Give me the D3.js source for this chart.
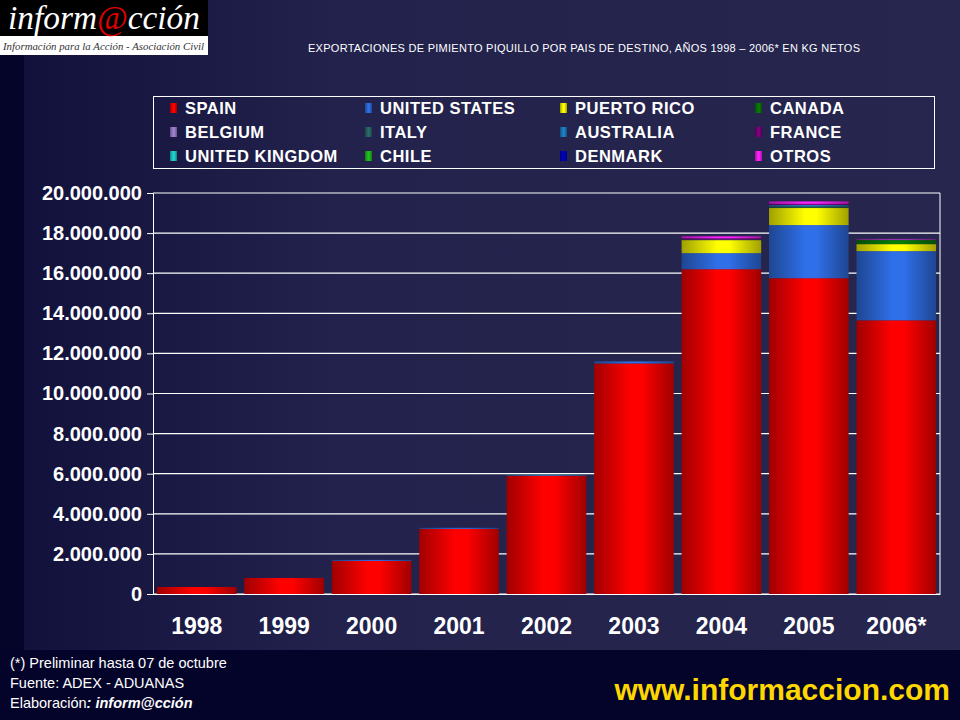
<!DOCTYPE html><html><head><meta charset="utf-8"><script src="https://cdn.jsdelivr.net/npm/d3@7"></script>
<style>body{margin:0}svg{display:block}</style></head><body><script>
const years=["1998","1999","2000","2001","2002","2003","2004","2005","2006*"];
const seriesNames=["SPAIN","UNITED STATES","PUERTO RICO","CANADA","BELGIUM","ITALY","AUSTRALIA","FRANCE","UNITED KINGDOM","CHILE","DENMARK","OTROS"];
const colors=["#ff0000","#2f6fe8","#ffff00","#0a7a0a","#a080d0","#2a6a6a","#1f7fc8","#800080","#20d0d0","#20c020","#0000c0","#ff20ff"];
const SPAIN=[350000,800000,1650000,3250000,5900000,11500000,16200000,15750000,13650000];
const US=[0,0,50000,50000,30000,100000,800000,2650000,3450000];
const PR=[0,0,0,0,0,0,650000,850000,350000];
const CANADA=[0,0,0,0,0,0,0,30000,200000];
const BELGIUM=[0,0,0,0,0,0,0,0,0];
const ITALY=[0,0,0,0,0,0,30000,60000,30000];
const AUSTRALIA=[0,0,0,0,0,0,0,60000,0];
const FRANCE=[0,0,0,0,0,0,60000,60000,0];
const UK=[0,0,0,0,20000,0,0,0,0];
const CHILE=[0,0,0,0,0,0,0,0,0];
const DENMARK=[0,0,0,0,0,0,0,0,0];
const OTROS=[0,0,0,0,0,0,100000,120000,30000];
const yTicks=[0,2e6,4e6,6e6,8e6,10e6,12e6,14e6,16e6,18e6,20e6];
const all=[SPAIN,US,PR,CANADA,BELGIUM,ITALY,AUSTRALIA,FRANCE,UK,CHILE,DENMARK,OTROS];
const rows=years.map((y,i)=>{const o={year:y};seriesNames.forEach((s,j)=>o[s]=all[j][i]);return o;});
const W=960,H=720;
const svg=d3.select("body").append("svg").attr("width",W).attr("height",H);
const defs=svg.append("defs");
const bg=defs.append("linearGradient").attr("id","bg").attr("x1",0).attr("x2",1);
bg.append("stop").attr("offset",0).attr("stop-color","#10103a");bg.append("stop").attr("offset",0.35).attr("stop-color","#22224c");bg.append("stop").attr("offset",1).attr("stop-color","#26264e");
svg.append("rect").attr("width",W).attr("height",H).attr("fill","url(#bg)");
svg.append("rect").attr("width",24).attr("height",H).attr("fill","#05052a");
svg.append("rect").attr("y",650).attr("width",W).attr("height",70).attr("fill","#04042a");
colors.forEach((c,i)=>{const g=defs.append("linearGradient").attr("id","g"+i).attr("x1",0).attr("x2",1);
const dk=d3.color(c).darker(1.3);
g.append("stop").attr("offset",0).attr("stop-color",dk);g.append("stop").attr("offset",0.45).attr("stop-color",c);g.append("stop").attr("offset",0.6).attr("stop-color",c);g.append("stop").attr("offset",1).attr("stop-color",dk);});
// logo
svg.append("rect").attr("x",0).attr("y",0).attr("width",208).attr("height",36).attr("fill","#000");
svg.append("rect").attr("x",0).attr("y",36).attr("width",208).attr("height",19).attr("fill","#fff");
svg.append("text").attr("x",104).attr("y",29).attr("text-anchor","middle").attr("fill","#fff").attr("font-family","Liberation Serif").attr("font-style","italic").attr("font-size",33).attr("textLength",192).attr("lengthAdjust","spacingAndGlyphs").html('inform<tspan fill="#e00000">@</tspan>cción');
svg.append("text").attr("x",3).attr("y",50).attr("fill","#333").attr("font-family","Liberation Serif").attr("font-style","italic").attr("font-size",11).attr("textLength",201).attr("lengthAdjust","spacingAndGlyphs").text("Información para la Acción - Asociación Civil");
svg.append("text").attr("x",584).attr("y",52).attr("text-anchor","middle").attr("fill","#fff").attr("font-family","Liberation Sans").attr("font-size",11).attr("textLength",552).text("EXPORTACIONES DE PIMIENTO PIQUILLO POR PAIS DE DESTINO, AÑOS 1998 – 2006* EN KG NETOS");
// legend
svg.append("rect").attr("x",153.5).attr("y",96.5).attr("width",781).attr("height",72).attr("fill","none").attr("stroke","#fff");
seriesNames.forEach((s,i)=>{const c=i%4,r=Math.floor(i/4);const x=170+c*195,y=108+r*24;
svg.append("rect").attr("x",x).attr("y",y-5).attr("width",7).attr("height",10).attr("fill","url(#g"+i+")");
svg.append("text").attr("x",x+15).attr("y",y+6).attr("fill","#fff").attr("font-family","Liberation Sans").attr("font-weight","bold").attr("font-size",16.5).attr("letter-spacing",0.5).text(s);});
const x=d3.scaleBand().domain(years).range([153,940]).paddingInner(0.09).paddingOuter(0.045);
const y=d3.scaleLinear().domain([0,20e6]).range([594,193]);
svg.append("g").selectAll("line").data(yTicks).join("line").attr("x1",153).attr("x2",940).attr("y1",d=>y(d)).attr("y2",d=>y(d)).attr("stroke","#fff").attr("stroke-width",1.2);
svg.append("line").attr("x1",940).attr("x2",940).attr("y1",193).attr("y2",594).attr("stroke","#fff");
const ya=svg.append("g").attr("transform","translate(153,0)").call(d3.axisLeft(y).tickValues(yTicks).tickSize(6).tickFormat(d=>d3.format(",")(d).replace(/,/g,".")));
ya.selectAll("text").attr("fill","#fff").attr("font-family","Liberation Sans").attr("font-weight","bold").attr("font-size",20).attr("dx",-2);
ya.selectAll("line,path").attr("stroke","#fff");
const xa=svg.append("g").attr("transform","translate(0,594)").call(d3.axisBottom(x).tickSize(0).tickPadding(24));
xa.selectAll("text").attr("fill","#fff").attr("font-family","Liberation Sans").attr("font-weight","bold").attr("font-size",23);
xa.select("path").attr("stroke","#fff");
const stack=d3.stack().keys(seriesNames)(rows);
svg.append("g").selectAll("g").data(stack).join("g").attr("fill",(d,i)=>"url(#g"+i+")")
.selectAll("rect").data(d=>d).join("rect").attr("x",d=>x(d.data.year)).attr("width",x.bandwidth())
.attr("y",d=>y(d[1])).attr("height",d=>Math.max(0,y(d[0])-y(d[1])));
const ft=svg.append("g").attr("font-family","Liberation Sans").attr("font-size",14.5).attr("fill","#fff");
ft.append("text").attr("x",10).attr("y",668).text("(*) Preliminar hasta 07 de octubre");
ft.append("text").attr("x",10).attr("y",688).text("Fuente: ADEX -  ADUANAS");
ft.append("text").attr("x",10).attr("y",708).html('Elaboración<tspan font-weight="bold" font-style="italic">: inform@cción</tspan>');
svg.append("text").attr("x",950).attr("y",700).attr("text-anchor","end").attr("fill","#ffd700").attr("font-family","Liberation Sans").attr("font-weight","bold").attr("font-size",30).text("www.informaccion.com");
</script></body></html>
